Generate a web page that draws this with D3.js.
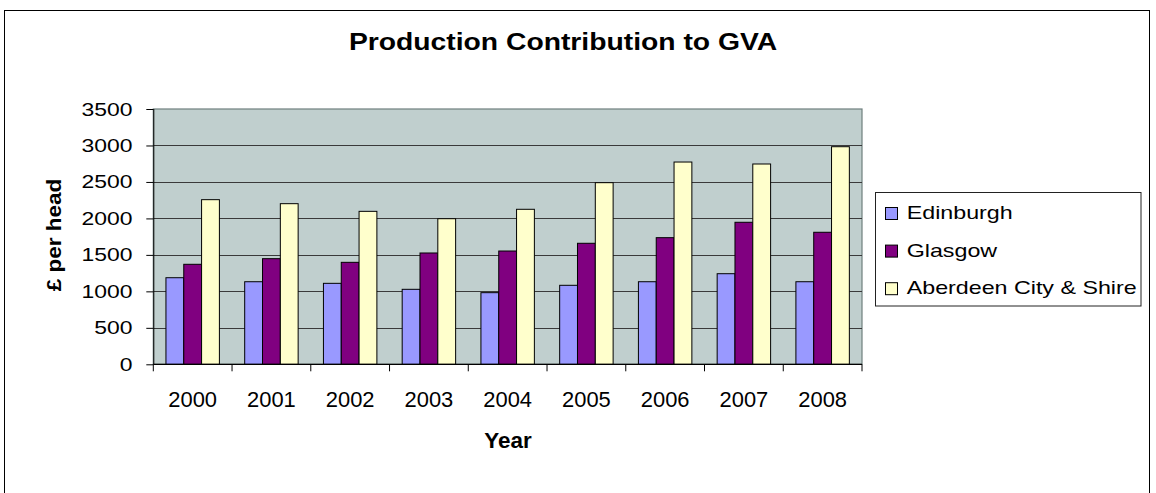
<!DOCTYPE html>
<html>
<head>
<meta charset="utf-8">
<script src="https://cdn.jsdelivr.net/npm/d3@7"></script>
<style>
  html, body { margin: 0; padding: 0; background: #fff; }
  svg { display: block; font-family: "Liberation Sans", Arial, sans-serif; }
</style>
</head>
<body>
<svg id="chart" width="1156" height="493"></svg>
<script>
// Production contribution to GVA, £ per head, by region
const years = ["2000", "2001", "2002", "2003", "2004", "2005", "2006", "2007", "2008"];
const seriesNames = ["Edinburgh", "Glasgow", "Aberdeen City & Shire"];
const edinburgh = [1187, 1132, 1110, 1028, 982, 1083, 1132, 1242, 1132];
const glasgow   = [1371, 1448, 1398, 1526, 1553, 1659, 1736, 1947, 1810];
const aberdeen  = [2257, 2202, 2097, 1996, 2125, 2490, 2773, 2746, 2983];
const yTicks = [0, 500, 1000, 1500, 2000, 2500, 3000, 3500];
const colors = ["#9999FF", "#800080", "#FFFFCC"];

const seriesValues = [edinburgh, glasgow, aberdeen];
const rows = years.map((yr, i) => ({
  year: yr,
  values: seriesNames.map((name, s) => ({ name, value: seriesValues[s][i], color: colors[s] }))
}));

const svg = d3.select("#chart");

// text helper: horizontal stretch + optional rotation
function label(parent, x, y, str, opt) {
  const o = Object.assign({ size: 19, weight: "normal", anchor: "start", sx: 1, rotate: 0 }, opt);
  return parent.append("text")
    .attr("transform", `translate(${x},${y}) rotate(${o.rotate}) scale(${o.sx},1)`)
    .attr("font-size", o.size)
    .attr("font-weight", o.weight)
    .attr("text-anchor", o.anchor)
    .attr("fill", "#000")
    .text(str);
}

// outer chart frame
svg.append("rect")
  .attr("x", 4.5).attr("y", 10.5)
  .attr("width", 1145).attr("height", 520)
  .attr("fill", "#fff").attr("stroke", "#000").attr("stroke-width", 1);

const plot = { left: 153.3, right: 862, top: 109, bottom: 364.3 };

const x = d3.scaleBand().domain(years).range([plot.left, plot.right]).padding(0);
const x1 = d3.scaleBand().domain(seriesNames).range([0, x.bandwidth()])
  .paddingInner(0).paddingOuter(0.71);
const y = d3.scaleLinear().domain([0, 3500]).range([plot.bottom, plot.top]);

// plot background
svg.append("rect")
  .attr("x", plot.left).attr("y", plot.top)
  .attr("width", plot.right - plot.left).attr("height", plot.bottom - plot.top)
  .attr("fill", "#C0CFCE").attr("stroke", "#6E7F7E").attr("stroke-width", 1.2);

// horizontal gridlines
svg.append("g")
  .selectAll("line")
  .data(yTicks.filter(t => t > 0 && t < 3500))
  .join("line")
  .attr("x1", plot.left).attr("x2", plot.right)
  .attr("y1", d => Math.round(y(d)) + 0.5).attr("y2", d => Math.round(y(d)) + 0.5)
  .attr("stroke", "#3a3a3a").attr("stroke-width", 1);

// bars
const groups = svg.append("g")
  .selectAll("g")
  .data(rows)
  .join("g")
  .attr("transform", d => `translate(${x(d.year)},0)`);

groups.selectAll("rect")
  .data(d => d.values)
  .join("rect")
  .attr("x", d => x1(d.name))
  .attr("y", d => y(d.value))
  .attr("width", x1.bandwidth())
  .attr("height", d => y(0) - y(d.value))
  .attr("fill", d => d.color)
  .attr("stroke", "#000")
  .attr("stroke-width", 1);

// y axis
const yAxis = d3.axisLeft(y).tickValues(yTicks).tickSize(7).tickFormat("");
const yg = svg.append("g").attr("transform", `translate(${plot.left},0)`).call(yAxis);
yg.select(".domain").attr("stroke", "#000").attr("d", `M0.5,${plot.top}V${plot.bottom}`);
yg.selectAll(".tick line").attr("stroke", "#000");
yTicks.forEach(t => {
  label(svg, 132.5, y(t) + 6.5, String(t), { size: 18.5, anchor: "end", sx: 1.24 });
});

// x axis with ticks at category boundaries
const bounds = years.map(yr => x(yr)).concat([plot.right]);
svg.append("line")
  .attr("x1", plot.left).attr("x2", plot.right)
  .attr("y1", plot.bottom).attr("y2", plot.bottom)
  .attr("stroke", "#000").attr("stroke-width", 1.3);
svg.append("g")
  .selectAll("line")
  .data(bounds)
  .join("line")
  .attr("x1", d => d).attr("x2", d => d)
  .attr("y1", plot.bottom).attr("y2", plot.bottom + 7)
  .attr("stroke", "#000").attr("stroke-width", 1);
years.forEach(yr => {
  label(svg, x(yr) + x.bandwidth() / 2, 406.5, yr, { size: 21.5, anchor: "middle", sx: 1.02 });
});

// titles
label(svg, 563, 50, "Production Contribution to GVA", { size: 23, weight: "bold", anchor: "middle", sx: 1.23 });
label(svg, 508, 447.5, "Year", { size: 22, weight: "bold", anchor: "middle", sx: 1.02 });
svg.append("text")
  .attr("transform", `translate(60.5,235) rotate(-90) scale(1.1,0.95)`)
  .attr("font-size", 20.5)
  .attr("font-weight", "bold")
  .attr("text-anchor", "middle")
  .text("£ per head");

// legend
const legend = svg.append("g");
legend.append("rect")
  .attr("x", 875.5).attr("y", 192.5)
  .attr("width", 265.5).attr("height", 113.5)
  .attr("fill", "#fff").attr("stroke", "#222").attr("stroke-width", 1);
seriesNames.forEach((name, i) => {
  const by = 219 + i * 37.6;
  legend.append("rect")
    .attr("x", 885.5).attr("y", by - 11.5)
    .attr("width", 12).attr("height", 12)
    .attr("fill", colors[i]).attr("stroke", "#000").attr("stroke-width", 1);
  label(legend, 906.7, by, name, { size: 18.6, sx: 1.25 });
});
</script>
</body>
</html>
